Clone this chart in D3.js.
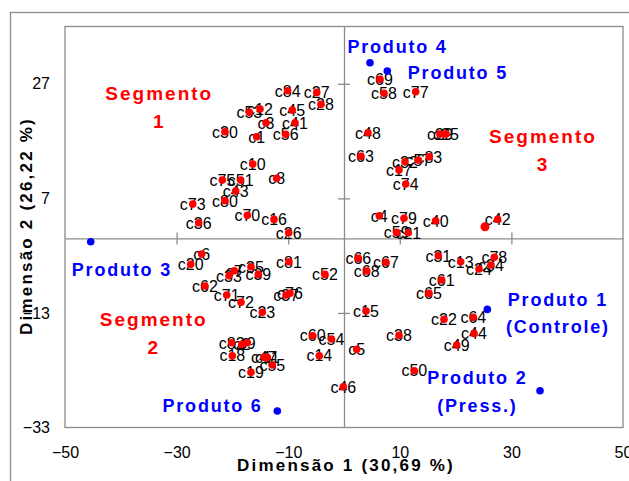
<!DOCTYPE html>
<html>
<head>
<meta charset="utf-8">
<script src="https://cdn.jsdelivr.net/npm/d3@7"></script>
<style>
  body { margin: 0; background: #fff; }
  svg { display: block; font-family: "Liberation Sans", Arial, sans-serif; }
</style>
</head>
<body>
<svg id="chart"></svg>
<script>
// consumers (red), labels + coordinates on the two dimensions
const consumerLabels = [
  'c84','c27','c28','c12','c53','c45','c3','c41','c30','c1','c56','c10','c75','c51','c8','c43','c73','c80','c36','c70','c16','c26',
  'c69','c58','c77','c48','c29','c25','c63','c32','c57','c83','c17','c74','c4','c79','c40','c42','','c59','c21',
  'c66','c67','c68','c31','c13','c78','c34','c24','c61','c65','c15','c22','c64','c44','c49','c38','c5','c50','c46',
  'c6','c20','c7','c33','c35','c39','c81','c52','c62','c71','c72','c37','c76','c23','c60','c54','c14','c82','c2','c9','c18','c47','c11','c55','c19'
];
const consumerX = [
  -10.09,-4.89,-4.12,-15.05,-16.97,-9.27,-13.98,-8.78,-21.33,-15.65,-10.45,-16.36,-21.81,-18.51,-12.06,-19.41,-27.11,-21.33,-26.04,-17.33,-12.54,-9.91,
  6.45,7.17,12.85,4.30,17.20,18.28,3.05,10.93,13.32,15.29,9.86,11.06,6.33,10.75,16.43,27.54,25.27,9.44,11.52,
  2.56,7.53,4.07,16.90,20.91,26.94,26.34,24.19,17.51,15.23,3.94,17.92,23.17,23.30,20.20,9.86,2.28,12.60,-0.13,
  -25.50,-27.47,-19.66,-20.61,-16.67,-15.36,-9.86,-3.41,-24.91,-21.02,-18.46,-10.39,-9.68,-14.64,-5.61,-2.24,-4.43,-20.13,-18.33,-17.33,-20.02,-14.34,-13.75,-12.85,-16.67
];
const consumerY = [
  25.78,25.50,23.41,22.59,22.01,22.41,20.20,20.20,18.62,17.75,18.17,12.99,10.19,10.19,10.49,8.27,6.00,6.58,2.74,4.03,3.33,0.99,
  27.77,25.33,25.61,18.45,18.22,18.22,14.33,13.39,13.68,14.26,11.94,9.50,3.96,3.51,3.09,3.33,2.04,1.06,0.99,
  -3.47,-4.17,-5.69,-3.02,-4.07,-3.30,-4.64,-5.34,-7.26,-9.58,-12.67,-14.12,-13.77,-16.57,-18.61,-16.91,-19.36,-23.09,-25.89,
  -2.72,-4.52,-5.64,-6.51,-4.94,-6.27,-4.07,-6.27,-8.31,-9.88,-11.15,-9.88,-9.58,-12.90,-16.98,-17.56,-20.47,-18.21,-18.49,-18.21,-20.47,-20.75,-20.75,-22.10,-23.37
];

// products (blue)
const productNames = ['Produto 1', 'Produto 2', 'Produto 3', 'Produto 4', 'Produto 5', 'Produto 6'];
const productX = [25.68, 35.13, -45.39, 4.66, 7.76, -11.95];
const productY = [-12.38, -26.58, -0.58, 30.67, 29.22, -30.13];

// annotation texts
const productText = [
  ['Produto 1', '(Controle)'], ['Produto 2', '(Press.)'], ['Produto 3'], ['Produto 4'], ['Produto 5'], ['Produto 6']
];
const segmentText = [['Segmento', '1'], ['Segmento', '2'], ['Segmento', '3']];

const xTicks = [-50, -30, -10, 10, 30, 50];
const yTicks = [-33, -13, 7, 27];

const width = 629, height = 481;
const plot = {left: 65, top: 26.5, width: 558, height: 401};

const svg = d3.select('#chart').attr('width', width).attr('height', height);

const x = d3.scaleLinear().domain([-50, 50]).range([plot.left, plot.left + plot.width]);
const y = d3.scaleLinear().domain([-33, 37]).range([plot.top + plot.height, plot.top]);

// outer frame and plot frame
svg.append('rect')
  .attr('x', 10.5).attr('y', 12.5).attr('width', 700).attr('height', 600)
  .attr('fill', 'none').attr('stroke', '#8c8c8c').attr('stroke-width', 1.3);
svg.append('rect')
  .attr('x', plot.left).attr('y', plot.top).attr('width', plot.width).attr('height', plot.height)
  .attr('fill', 'none').attr('stroke', '#8c8c8c').attr('stroke-width', 1.3);

// tick labels on the frame edges
const xLab = svg.append('g')
  .attr('transform', `translate(0,${plot.top + plot.height})`)
  .call(d3.axisBottom(x).tickValues(xTicks).tickSize(0).tickPadding(19.5));
const yLab = svg.append('g')
  .attr('transform', `translate(${plot.left},0)`)
  .call(d3.axisLeft(y).tickValues(yTicks).tickSize(0).tickPadding(15));
[xLab, yLab].forEach(g => {
  g.select('.domain').remove();
  g.selectAll('text').attr('font-size', 16).attr('fill', '#000')
    .attr('font-family', '"Liberation Sans", Arial, sans-serif');
});

// center axes crossing at the origin
const xCenter = svg.append('g')
  .attr('transform', `translate(0,${y(0)})`)
  .call(d3.axisBottom(x).tickValues([-30, -10, 10, 30]).tickSizeOuter(0).tickFormat(''));
xCenter.selectAll('.tick line').attr('y1', -6).attr('y2', 6);
const yCenter = svg.append('g')
  .attr('transform', `translate(${x(0)},0)`)
  .call(d3.axisLeft(y).tickValues([-13, 7, 27]).tickSizeOuter(0).tickFormat(''));
yCenter.selectAll('.tick line').attr('x1', -6).attr('x2', 6);
[xCenter, yCenter].forEach(g => {
  g.selectAll('path, line').attr('stroke', '#8c8c8c').attr('stroke-width', 1.3);
});

// axis titles
svg.append('text')
  .attr('x', 346).attr('y', 471)
  .attr('text-anchor', 'middle')
  .attr('font-size', 17).attr('font-weight', 'bold').attr('letter-spacing', 2.2)
  .text('Dimensão 1 (30,69 %)');
svg.append('text')
  .attr('transform', 'translate(32,226) rotate(-90)')
  .attr('text-anchor', 'middle')
  .attr('font-size', 17).attr('font-weight', 'bold').attr('letter-spacing', 2.2)
  .text('Dimensão 2 (26,22 %)');

// consumers: labels first, then dots on top
const consumers = consumerLabels.map((l, i) => ({label: l, x: consumerX[i], y: consumerY[i]}));

svg.append('g').selectAll('text')
  .data(consumers.filter(d => d.label))
  .join('text')
  .attr('x', d => x(d.x))
  .attr('y', d => y(d.y))
  .attr('dy', '0.36em')
  .attr('text-anchor', 'middle')
  .attr('font-size', 16)
  .attr('fill', '#000')
  .text(d => d.label);

svg.append('g').selectAll('circle')
  .data(consumers)
  .join('circle')
  .attr('cx', d => x(d.x))
  .attr('cy', d => y(d.y))
  .attr('r', d => d.label ? 3.8 : 4.5)
  .attr('fill', '#ff0000');

// products
const products = productNames.map((n, i) => ({name: n, x: productX[i], y: productY[i]}));
svg.append('g').selectAll('circle')
  .data(products)
  .join('circle')
  .attr('cx', d => x(d.x))
  .attr('cy', d => y(d.y))
  .attr('r', 3.8)
  .attr('fill', '#0000ff');

// annotation placement (data space centers of the first line)
const productTextPos = [[38.17, -10.63], [23.75, -24.31], [-39.96, -5.39], [9.44, 33.58], [20.25, 29.05], [-23.71, -29.25]];
const segmentTextPos = [[-33.28, 25.43], [-34.28, -14.12], [35.48, 17.87]];

function block(lines, pos, color, size, ls, lineGap) {
  const t = svg.append('text')
    .attr('text-anchor', 'middle')
    .attr('font-size', size)
    .attr('font-weight', 'bold')
    .attr('letter-spacing', ls)
    .attr('fill', color);
  lines.forEach((line, i) => {
    t.append('tspan')
      .attr('x', x(pos[0]) + ls / 2)
      .attr('y', y(pos[1]) + i * lineGap)
      .attr('dy', '0.36em')
      .text(line);
  });
}

productText.forEach((lines, i) => block(lines, productTextPos[i], '#0000ff', 18, 1.8, 27.4));
segmentText.forEach((lines, i) => block(lines, segmentTextPos[i], '#ff0000', 19, 2, 28));
</script>
</body>
</html>
